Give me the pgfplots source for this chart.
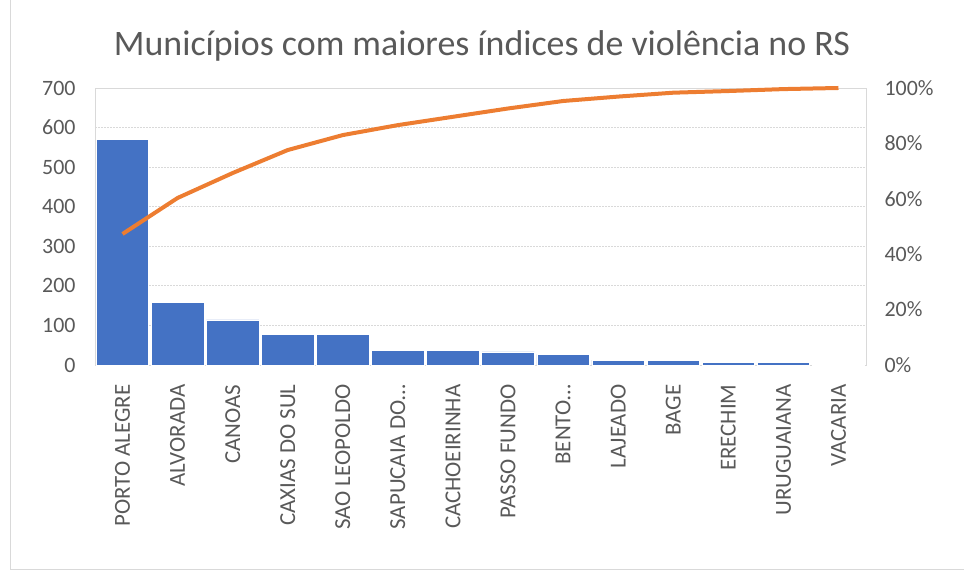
\documentclass[border=0pt]{standalone}
\usepackage{pgfplots}
\pgfplotsset{compat=1.18}
\usepackage{fontspec}
\setmainfont{Carlito}
\definecolor{barblue}{HTML}{4472C4}
\definecolor{lineor}{HTML}{ED7D31}
\definecolor{txt}{HTML}{595959}
\definecolor{gridc}{HTML}{D9D9D9}
\begin{document}
\begin{tikzpicture}[x=1bp,y=1bp]
\path[use as bounding box] (0,0) rectangle (964,574);
\draw[gridc, line width=1bp] (10,574) -- (10,4) -- (964,4);
\node[text=txt, font=\fontsize{36}{42}\selectfont] at (482,528) {Municípios com maiores índices de violência no RS};
\begin{axis}[at={(95bp,209bp)}, anchor=south west, scale only axis,
  width=771bp, height=277bp,
  xmin=-0.5, xmax=13.5, ymin=0, ymax=700,
  ytick={0,100,...,700},
  xtick={0,...,13},
  xticklabels={PORTO ALEGRE,ALVORADA,CANOAS,CAXIAS DO SUL,SAO LEOPOLDO,{SAPUCAIA DO…},CACHOEIRINHA,PASSO FUNDO,{BENTO…},LAJEADO,BAGE,ERECHIM,URUGUAIANA,VACARIA},
  x tick label style={rotate=90, anchor=east, text=txt, font=\fontsize{23}{27}\selectfont, xshift=-16bp},
  y tick label style={text=txt, font=\fontsize{22}{26}\selectfont, anchor=east, xshift=-16bp},
  /pgf/number format/assume math mode=true,
  major tick length=0pt,
  axis line style={gridc},
  ymajorgrids, major grid style={gridc, dash pattern=on 2bp off 1bp, line width=0.8bp},
  ybar, bar width=52.5bp, bar shift=0pt,
  clip=false,
]
\addplot[fill=barblue, draw=white, line width=0.6bp] coordinates {
(0,571) (1,159) (2,114) (3,78) (4,78) (5,36) (6,36) (7,33) (8,27) (9,12) (10,12) (11,7) (12,7) (13,1)};
\end{axis}
\begin{axis}[at={(95bp,209bp)}, anchor=south west, scale only axis,
  width=771bp, height=277bp,
  xmin=-0.5, xmax=13.5, ymin=0, ymax=100,
  axis x line=none, axis y line*=right,
  ytick={0,20,...,100},
  yticklabel={\pgfmathprintnumber{\tick}\%},
  y tick label style={text=txt, font=\fontsize{22}{26}\selectfont, anchor=west, xshift=15bp},
  /pgf/number format/assume math mode=true,
  major tick length=0pt,
  axis line style={gridc},
  clip=false,
]
\addplot[lineor, line width=4bp, line join=round] coordinates {
(0,47.3) (1,60.3) (2,69.3) (3,77.6) (4,83.0) (5,86.6) (6,89.6) (7,92.6) (8,95.3) (9,96.9) (10,98.3) (11,98.9) (12,99.6) (13,100)};
\end{axis}
\end{tikzpicture}
\end{document}
